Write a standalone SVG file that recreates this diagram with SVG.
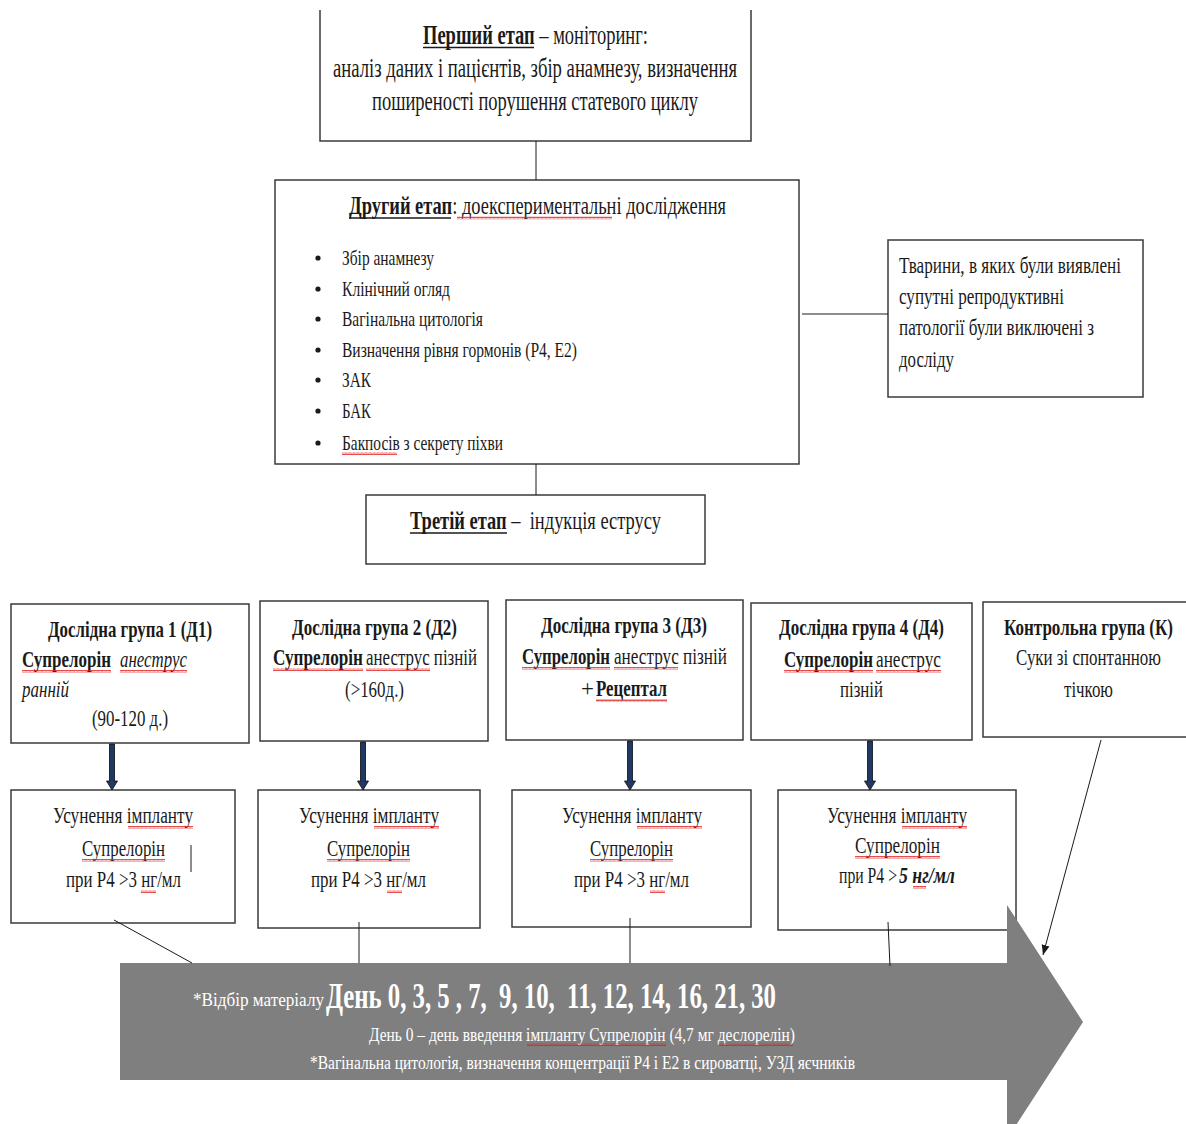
<svg xmlns="http://www.w3.org/2000/svg" width="1186" height="1124" viewBox="0 0 1186 1124">
<defs>
<style>
text{font-family:"Liberation Serif","Times New Roman",serif;fill:#1a1a1a}
.b{font-weight:bold}
.i{font-style:italic}
.pre{white-space:pre}
.box{fill:#fff;stroke:#3a3a3a;stroke-width:1.5}
.ln{stroke:#1a1a1a;stroke-width:1;fill:none}
.ul{stroke:#1a1a1a;stroke-width:1.5}
.wv{fill:url(#wave)}
.wt{fill:#fff}
.thick{fill:#203864;stroke:#0a0a0a;stroke-width:0.8}
</style>
<pattern id="wave" width="4" height="3" patternUnits="userSpaceOnUse"><path d="M0 2.5 L1 0.5 L2 2.5 L3 0.5 L4 2.5" fill="none" stroke="#e02020" stroke-width="0.8"/></pattern>
<marker id="ah" viewBox="0 0 10 10" refX="10" refY="5" markerWidth="10" markerHeight="10" markerUnits="userSpaceOnUse" orient="auto"><path d="M0 1 L10 5 L0 9 Z" fill="#1a1a1a"/></marker>
</defs>

<g id="stage1">
<path class="box" d="M320 10 V141 H751 V10"/>
<text x="423" y="44" font-size="28" textLength="225" lengthAdjust="spacingAndGlyphs"><tspan class="b">Перший етап</tspan> – моніторинг:</text>
<line class="ul" x1="423" y1="47.5" x2="534" y2="47.5"/>
<text x="333" y="77" font-size="28" textLength="404" lengthAdjust="spacingAndGlyphs">аналіз даних і пацієнтів, збір анамнезу, визначення</text>
<text x="372" y="110" font-size="28" textLength="326" lengthAdjust="spacingAndGlyphs">поширеності порушення статевого циклу</text>
</g>

<g id="stage2">
<rect class="box" x="275" y="180" width="524" height="284"/>
<text x="349" y="214" font-size="26" textLength="377" lengthAdjust="spacingAndGlyphs"><tspan class="b">Другий етап</tspan>: доекспериментальні дослідження</text>
<line class="ul" x1="349" y1="218" x2="451" y2="218"/>
<rect class="wv" x="457" y="216.5" width="155" height="3"/>
<g font-size="22">
<circle cx="318" cy="258" r="2.6" fill="#1a1a1a"/>
<text x="342" y="265" textLength="92" lengthAdjust="spacingAndGlyphs">Збір анамнезу</text>
<circle cx="318" cy="289" r="2.6" fill="#1a1a1a"/>
<text x="342" y="296" textLength="108" lengthAdjust="spacingAndGlyphs">Клінічний огляд</text>
<circle cx="318" cy="319" r="2.6" fill="#1a1a1a"/>
<text x="342" y="326" textLength="141" lengthAdjust="spacingAndGlyphs">Вагінальна цитологія</text>
<circle cx="318" cy="350" r="2.6" fill="#1a1a1a"/>
<text x="342" y="357" textLength="235" lengthAdjust="spacingAndGlyphs">Визначення рівня гормонів (Р4, Е2)</text>
<circle cx="318" cy="380" r="2.6" fill="#1a1a1a"/>
<text x="342" y="387" textLength="29" lengthAdjust="spacingAndGlyphs">ЗАК</text>
<circle cx="318" cy="411" r="2.6" fill="#1a1a1a"/>
<text x="342" y="418" textLength="29" lengthAdjust="spacingAndGlyphs">БАК</text>
<circle cx="318" cy="443" r="2.6" fill="#1a1a1a"/>
<text x="342" y="450" textLength="161" lengthAdjust="spacingAndGlyphs">Бакпосів з секрету піхви</text>
<rect class="wv" x="342" y="452" width="55" height="3"/>
</g>
</g>

<g id="excluded">
<rect class="box" x="888" y="240" width="255" height="157"/>
<g font-size="23">
<text x="899" y="273" textLength="222" lengthAdjust="spacingAndGlyphs">Тварини, в яких були виявлені</text>
<text x="899" y="304" textLength="165" lengthAdjust="spacingAndGlyphs">супутні репродуктивні</text>
<text x="899" y="335" textLength="195" lengthAdjust="spacingAndGlyphs">патології були виключені з</text>
<text x="899" y="367" textLength="55" lengthAdjust="spacingAndGlyphs">досліду</text>
</g>
</g>

<g id="stage3">
<rect class="box" x="366" y="495" width="339" height="69"/>
<text x="410" y="529" font-size="25" textLength="251" lengthAdjust="spacingAndGlyphs" class="pre"><tspan class="b">Третій етап</tspan> –  індукція еструсу</text>
<line class="ul" x1="410" y1="533" x2="507" y2="533"/>
</g>

<g id="group-d1">
<rect class="box" x="11" y="604" width="238" height="139"/>
<text class="b" x="48" y="637" font-size="23" textLength="164" lengthAdjust="spacingAndGlyphs">Дослідна група 1 (Д1)</text>
<text class="b" x="22" y="667" font-size="23" textLength="89" lengthAdjust="spacingAndGlyphs">Супрелорін</text>
<text class="i" x="120" y="667" font-size="23" textLength="67" lengthAdjust="spacingAndGlyphs">анеструс</text>
<rect class="wv" x="22" y="670" width="89" height="3"/>
<rect class="wv" x="120" y="670" width="67" height="3"/>
<text class="i" x="22" y="697" font-size="23" textLength="47" lengthAdjust="spacingAndGlyphs">ранній</text>
<text x="92" y="726" font-size="23" textLength="76" lengthAdjust="spacingAndGlyphs">(90-120 д.)</text>
</g>

<g id="group-d2">
<rect class="box" x="260" y="601" width="228" height="140"/>
<text class="b" x="292" y="635" font-size="23" textLength="165" lengthAdjust="spacingAndGlyphs">Дослідна група 2 (Д2)</text>
<text class="b" x="273" y="665" font-size="23" textLength="90" lengthAdjust="spacingAndGlyphs">Супрелорін</text>
<text x="366" y="665" font-size="23" textLength="111" lengthAdjust="spacingAndGlyphs">анеструс пізній</text>
<rect class="wv" x="273" y="668" width="90" height="3"/>
<rect class="wv" x="366" y="668" width="64" height="3"/>
<text x="345" y="697" font-size="23" textLength="59" lengthAdjust="spacingAndGlyphs">(&gt;160д.)</text>
</g>

<g id="group-d3">
<rect class="box" x="506" y="600" width="237" height="140"/>
<text class="b" x="541" y="633" font-size="23" textLength="166" lengthAdjust="spacingAndGlyphs">Дослідна група 3 (Д3)</text>
<text class="b" x="522" y="664" font-size="23" textLength="88" lengthAdjust="spacingAndGlyphs">Супрелорін</text>
<text x="614" y="664" font-size="23" textLength="113" lengthAdjust="spacingAndGlyphs">анеструс пізній</text>
<rect class="wv" x="522" y="667" width="88" height="3"/>
<rect class="wv" x="614" y="667" width="64" height="3"/>
<text x="581" y="696" font-size="23">+</text>
<text class="b" x="596" y="696" font-size="23" textLength="71" lengthAdjust="spacingAndGlyphs">Рецептал</text>
<rect class="wv" x="596" y="699" width="71" height="3"/>
</g>

<g id="group-d4">
<rect class="box" x="751" y="603" width="221" height="137"/>
<text class="b" x="779" y="635" font-size="23" textLength="165" lengthAdjust="spacingAndGlyphs">Дослідна група 4 (Д4)</text>
<text class="b" x="784" y="667" font-size="23" textLength="89" lengthAdjust="spacingAndGlyphs">Супрелорін</text>
<text x="876" y="667" font-size="23" textLength="65" lengthAdjust="spacingAndGlyphs">анеструс</text>
<rect class="wv" x="784" y="670" width="89" height="3"/>
<rect class="wv" x="876" y="670" width="65" height="3"/>
<text x="840" y="697" font-size="23" textLength="43" lengthAdjust="spacingAndGlyphs">пізній</text>
</g>

<g id="group-k">
<rect class="box" x="983" y="602" width="210" height="135"/>
<text class="b" x="1004" y="635" font-size="23" textLength="169" lengthAdjust="spacingAndGlyphs">Контрольна група (К)</text>
<text x="1016" y="665" font-size="23" textLength="145" lengthAdjust="spacingAndGlyphs">Суки зі спонтанною</text>
<text x="1064" y="697" font-size="23" textLength="49" lengthAdjust="spacingAndGlyphs">тічкою</text>
</g>

<g id="removal-1">
<rect class="box" x="11" y="790" width="224" height="133"/>
<text x="53" y="823" font-size="23" textLength="140" lengthAdjust="spacingAndGlyphs">Усунення імпланту</text>
<rect class="wv" x="128" y="826" width="65" height="3"/>
<text x="82" y="856" font-size="23" textLength="83" lengthAdjust="spacingAndGlyphs">Супрелорін</text>
<rect class="wv" x="82" y="859" width="83" height="3"/>
<text x="66" y="887" font-size="23" textLength="115" lengthAdjust="spacingAndGlyphs">при Р4 &gt;3 нг/мл</text>
<rect class="wv" x="141" y="890" width="15" height="3"/>
<line class="ln" x1="191" y1="845" x2="191" y2="872"/>
</g>

<g id="removal-2">
<rect class="box" x="258" y="790" width="222" height="138"/>
<text x="299" y="823" font-size="23" textLength="140" lengthAdjust="spacingAndGlyphs">Усунення імпланту</text>
<rect class="wv" x="374" y="826" width="65" height="3"/>
<text x="327" y="856" font-size="23" textLength="83" lengthAdjust="spacingAndGlyphs">Супрелорін</text>
<rect class="wv" x="327" y="859" width="83" height="3"/>
<text x="311" y="887" font-size="23" textLength="115" lengthAdjust="spacingAndGlyphs">при Р4 &gt;3 нг/мл</text>
<rect class="wv" x="387" y="890" width="15" height="3"/>
</g>

<g id="removal-3">
<rect class="box" x="512" y="790" width="239" height="137"/>
<text x="562" y="823" font-size="23" textLength="140" lengthAdjust="spacingAndGlyphs">Усунення імпланту</text>
<rect class="wv" x="637" y="826" width="65" height="3"/>
<text x="590" y="856" font-size="23" textLength="83" lengthAdjust="spacingAndGlyphs">Супрелорін</text>
<rect class="wv" x="590" y="859" width="83" height="3"/>
<text x="574" y="887" font-size="23" textLength="115" lengthAdjust="spacingAndGlyphs">при Р4 &gt;3 нг/мл</text>
<rect class="wv" x="650" y="890" width="15" height="3"/>
</g>

<g id="removal-4">
<rect class="box" x="778" y="790" width="238" height="140"/>
<text x="827" y="823" font-size="23" textLength="140" lengthAdjust="spacingAndGlyphs">Усунення імпланту</text>
<rect class="wv" x="902" y="826" width="65" height="3"/>
<text x="855" y="853" font-size="23" textLength="85" lengthAdjust="spacingAndGlyphs">Супрелорін</text>
<rect class="wv" x="855" y="856" width="85" height="3"/>
<text x="839" y="883" font-size="23" textLength="58" lengthAdjust="spacingAndGlyphs">при Р4 &gt;</text>
<text class="b i" x="899" y="883" font-size="23" textLength="56" lengthAdjust="spacingAndGlyphs">5 нг/мл</text>
<rect class="wv" x="913" y="886" width="13" height="3"/>
</g>

<g id="timeline">
<polygon points="120,963 1007,963 1007,905 1083,1022 1007,1139 1007,1080 120,1080" fill="#7f7f7f"/>
<text class="wt" x="193" y="1006" font-size="19" textLength="131" lengthAdjust="spacingAndGlyphs">*Відбір матеріалу</text>
<text class="wt b pre" x="326" y="1008" font-size="35" textLength="450" lengthAdjust="spacingAndGlyphs">День 0, 3, 5 , 7,  9, 10,  11, 12, 14, 16, 21, 30</text>
<text class="wt" x="369" y="1041" font-size="18" textLength="426" lengthAdjust="spacingAndGlyphs">День 0 – день введення імпланту Супрелорін (4,7 мг деслорелін)</text>
<rect class="wv" x="527" y="1043" width="139" height="3"/>
<rect class="wv" x="719" y="1043" width="74" height="3"/>
<text class="wt" x="310" y="1069" font-size="18" textLength="545" lengthAdjust="spacingAndGlyphs">*Вагінальна цитологія, визначення концентрації Р4 і Е2 в сироватці, УЗД яєчників</text>
</g>

<g id="connectors">
<line class="ln" x1="536" y1="141" x2="536" y2="180"/>
<line class="ln" x1="802" y1="314" x2="888" y2="314"/>
<line class="ln" x1="536" y1="464" x2="536" y2="495"/>
<polygon class="thick" points="109.5,744 114.5,744 114.5,781 117.5,781 112,790 106.5,781 109.5,781"/>
<polygon class="thick" points="360.5,742 365.5,742 365.5,781 368.5,781 363,790 357.5,781 360.5,781"/>
<polygon class="thick" points="627.5,741 632.5,741 632.5,781 635.5,781 630,790 624.5,781 627.5,781"/>
<polygon class="thick" points="867.5,741 872.5,741 872.5,781 875.5,781 870,790 864.5,781 867.5,781"/>
<line class="ln" x1="114" y1="920" x2="192" y2="963"/>
<line class="ln" x1="359" y1="922" x2="359" y2="963"/>
<line class="ln" x1="630" y1="918" x2="630" y2="963"/>
<line class="ln" x1="888" y1="922" x2="890" y2="966"/>
<line class="ln" x1="1101" y1="740" x2="1043" y2="955" marker-end="url(#ah)"/>
</g>
</svg>
